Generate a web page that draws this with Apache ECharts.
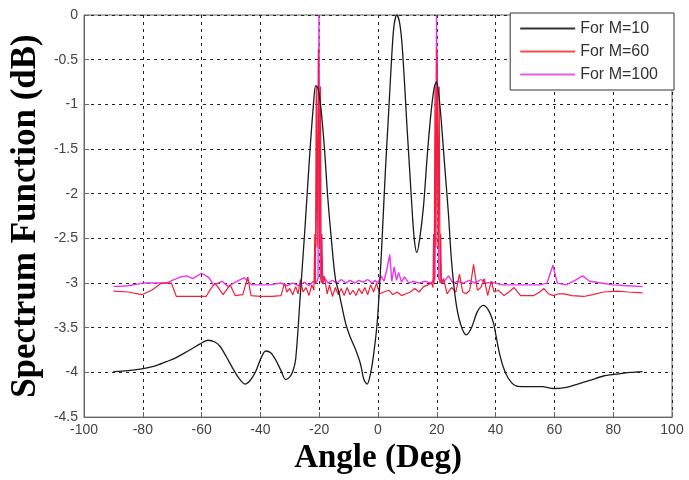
<!DOCTYPE html>
<html>
<head>
<meta charset="utf-8">
<script src="https://cdn.jsdelivr.net/npm/echarts@6/dist/echarts.min.js"></script>
<style>
html,body{margin:0;padding:0;background:#fff;}
#c{width:689px;height:480px;}
</style>
</head>
<body>
<div id="c"></div>
<script>
// ---- data ----
const seriesNames = ['For M=10', 'For M=60', 'For M=100'];
const xTicks = [-100, -80, -60, -40, -20, 0, 20, 40, 60, 80, 100];
const yTicks = [-4.5, -4, -3.5, -3, -2.5, -2, -1.5, -1, -0.5, 0];

const m10 = [
  [-90,-3.99],[-85,-3.98],[-80.4,-3.96],[-76,-3.93],[-72,-3.88],[-69,-3.84],[-66.2,-3.79],[-63,-3.73],[-60.5,-3.68],[-57.8,-3.64],
  [-55.5,-3.66],[-53.7,-3.71],[-51.5,-3.83],[-49.3,-3.96],[-47.2,-4.07],[-45.3,-4.13],[-43.5,-4.09],[-41.6,-3.99],[-39.8,-3.84],
  [-38.2,-3.76],[-36.5,-3.78],[-34.8,-3.86],[-33,-3.98],[-31.4,-4.08],[-30,-4.05],[-29,-3.99],[-28,-3.85],[-26.4,-3.12],
  [-25,-2.46],[-24,-1.95],[-23,-1.45],[-22,-1.02],[-21.2,-0.79],[-20.4,-0.82],[-19.4,-1.05],[-18.2,-1.5],[-17.2,-2.0],
  [-15.9,-2.5],[-14.5,-2.95],[-13.2,-3.12],[-11.1,-3.44],[-9.5,-3.6],[-7.8,-3.73],[-6,-3.9],[-4.8,-4.08],[-3.7,-4.13],
  [-2.6,-4.02],[-1.5,-3.8],[-0.3,-3.45],[0.6,-3.0],[1.4,-2.5],[2.5,-1.75],[3.7,-1.04],[4.6,-0.5],[5.4,-0.13],[6.4,0],
  [7.3,-0.08],[8.1,-0.3],[9,-0.75],[9.8,-1.22],[10.7,-1.7],[11.5,-2.13],[12.3,-2.5],[13.2,-2.66],[14.2,-2.5],[15.5,-2.13],
  [16.8,-1.55],[18.2,-1.04],[19.2,-0.8],[19.9,-0.75],[20.7,-0.9],[21.6,-1.22],[22.7,-1.7],[23.9,-2.2],[25,-2.75],[26.4,-3.19],
  [28,-3.45],[30,-3.58],[31.8,-3.5],[33.8,-3.32],[35.8,-3.25],[37.5,-3.3],[39.2,-3.44],[40.2,-3.6],[41.2,-3.77],[42.6,-3.94],
  [44.2,-4.06],[46.3,-4.14],[49,-4.16],[52,-4.16],[55.8,-4.16],[59.8,-4.18],[63.5,-4.17],[67.9,-4.13],[72,-4.09],[76.7,-4.04],
  [81,-4.02],[85.8,-4.0],[90,-3.99]
];

const m60 = [
  [-90,-3.09],[-85,-3.1],[-80.4,-3.13],[-77,-3.08],[-73.6,-3.0],[-70.3,-3.0],[-68.6,-3.15],[-66,-3.15],[-62,-3.15],[-58.5,-3.15],
  [-56.8,-3.06],[-55.4,-3.0],[-52.7,-3.13],[-50.3,-3.02],[-48.6,-3.14],[-46,-3.13],[-44.3,-2.93],[-43.2,-3.14],[-40,-3.15],
  [-36,-3.15],[-33,-3.14],[-31.8,-3.0],[-31,-3.1],[-30,-3.06],[-29,-3.13],[-28,-3.04],[-27.2,-3.12],[-26.4,-2.96],[-25.5,-3.1],
  [-24.5,-3.05],[-23.5,-3.14],[-22.5,-3.02],[-21.8,-3.08],[-21.5,-2.45],[-21.3,-3.0],[-21.0,-0.8],[-20.7,-2.6],[-20.3,-0.38],
  [-19.9,-2.6],[-19.6,-0.8],[-19.3,-3.0],[-19.1,-2.45],[-18.8,-3.0],
  [-18.3,-2.92],[-17.3,-3.12],[-16.5,-3.02],[-15.5,-3.15],[-14.5,-3.05],[-13.5,-3.13],[-12.5,-3.06],[-11.5,-3.14],
  [-10.5,-3.05],[-9.5,-3.13],[-8.5,-3.08],[-7.5,-3.14],[-6.5,-3.06],[-5.5,-3.12],[-4.5,-3.05],[-3.5,-3.13],[-2.5,-3.02],
  [-1.5,-3.1],[-0.5,-3.0],[0.5,-3.12],[2,-3.1],[3.7,-3.08],[5,-3.13],[6.5,-3.1],[8,-3.14],[9.5,-3.12],[11,-3.1],[12.5,-3.06],
  [14,-3.1],[15.5,-3.04],[17,-3.02],[18.2,-3.0],[18.7,-3.05],[18.9,-2.45],[19.1,-3.0],[19.4,-0.8],[19.7,-2.6],[20.1,-0.38],
  [20.5,-2.6],[20.8,-0.8],[21.1,-3.0],[21.3,-2.45],[21.6,-3.0],
  [22.3,-2.95],[23.5,-3.12],[25,-3.05],[26.5,-3.1],[27.7,-2.9],[28.8,-3.1],[30,-3.12],[31.2,-3.08],[32.5,-2.79],[33.8,-3.08],
  [35,-3.05],[36.1,-2.95],[37.3,-3.14],[38.5,-2.98],[39.5,-3.1],[40.9,-3.08],[42.9,-3.14],[44.5,-3.1],[46.3,-3.05],[48.5,-3.14],
  [51,-3.14],[53,-3.14],[55,-3.1],[56.4,-3.06],[58,-3.12],[59.5,-3.14],[61.5,-3.12],[63.2,-3.12],[66,-3.14],[70,-3.15],
  [73,-3.13],[76.7,-3.1],[81.4,-3.09],[85,-3.1],[90,-3.11]
];

const m100 = [
  [-90,-3.04],[-85,-3.03],[-80,-3.0],[-75,-3.0],[-72,-3.0],[-70,-2.97],[-67,-2.93],[-65,-2.92],[-63,-2.95],[-60,-2.89],
  [-57.5,-2.94],[-56,-3.02],[-53,-2.98],[-51,-3.04],[-48.5,-2.99],[-45.5,-2.94],[-43,-3.02],[-40,-3.02],[-37,-3.02],[-33,-3.0],
  [-31,-3.03],[-29,-3.0],[-27,-3.03],[-25,-2.99],[-23.5,-3.03],[-22,-2.98],[-21,-3.0],[-20.4,-2.95],[-20.1,0],[-19.9,0],
  [-19.6,-2.95],[-19,-3.0],[-18,-2.95],[-17,-3.0],[-15.5,-2.97],[-14,-3.0],[-12.5,-2.96],[-11,-3.0],[-9.5,-2.97],[-8,-3.0],
  [-6.5,-2.97],[-5,-2.99],[-3.5,-2.96],[-2,-3.0],[-1,-2.97],[0,-3.0],[1,-2.92],[2,-2.98],[3,-2.85],[4,-2.68],[4.7,-2.98],
  [5.5,-2.82],[6.3,-2.97],[7,-2.88],[8,-2.99],[9,-2.93],[10.5,-3.0],[12,-2.98],[14,-3.0],[16,-2.98],[18,-3.0],[19.4,-2.95],
  [19.9,0],[20.1,0],[20.6,-2.95],[21.5,-3.0],[22.5,-2.98],[24,-2.92],[25.5,-3.0],[27,-2.98],[29,-3.0],[31,-2.97],[33,-3.0],
  [35,-2.96],[37,-3.0],[39,-2.99],[42,-3.02],[45,-3.02],[50,-3.02],[55,-3.02],[57.5,-3.0],[59.5,-2.8],[61,-3.0],[64,-3.02],
  [67,-2.97],[69.6,-2.92],[72,-2.98],[76,-3.0],[80,-3.02],[85,-3.03],[90,-3.04]
];

// ---- chart ----
const chart = echarts.init(document.getElementById('c'), null, {renderer: 'canvas'});
const gridDash = {type: [3, 4], color: '#222', width: 1};
chart.setOption({
  animation: false,
  backgroundColor: '#fff',
  grid: {left: 80, right: 17, top: 15, bottom: 53, show: true, borderColor: '#666', borderWidth: 1},
  legend: {
    orient: 'vertical', right: 15, top: 13,
    data: seriesNames,
    icon: 'rect',
    backgroundColor: '#fff', borderColor: '#333', borderWidth: 1,
    padding: [7, 16, 7, 10], itemGap: 6, itemWidth: 55, itemHeight: 2,
    textStyle: {fontFamily: 'Liberation Sans', fontSize: 16, color: '#333', lineHeight: 17}
  },
  xAxis: {
    type: 'value', min: xTicks[0], max: xTicks[xTicks.length - 1], interval: 20,
    name: 'Angle (Deg)', nameLocation: 'middle', nameGap: 20,
    nameTextStyle: {fontFamily: 'Liberation Serif', fontWeight: 'bold', fontSize: 33, color: '#000'},
    axisLine: {show: true, onZero: false, lineStyle: {color: '#666'}},
    axisTick: {show: true, inside: true, length: 5, lineStyle: {color: '#666'}},
    axisLabel: {fontFamily: 'Liberation Sans', fontSize: 14, color: '#444', margin: 6},
    splitLine: {show: true, lineStyle: gridDash}
  },
  yAxis: {
    type: 'value', min: yTicks[0], max: yTicks[yTicks.length - 1], interval: 0.5,
    name: 'Spectrum Function (dB)', nameLocation: 'middle', nameGap: 38,
    nameTextStyle: {fontFamily: 'Liberation Serif', fontWeight: 'bold', fontSize: 35, color: '#000'},
    axisLine: {show: true, onZero: false, lineStyle: {color: '#666'}},
    axisTick: {show: true, inside: true, length: 5, lineStyle: {color: '#666'}},
    axisLabel: {fontFamily: 'Liberation Sans', fontSize: 14, color: '#444', margin: 6},
    splitLine: {show: true, lineStyle: gridDash}
  },
  series: [
    {name: seriesNames[0], type: 'line', data: m10, symbol: 'none', smooth: 0.3, z: 4,
     lineStyle: {color: '#1a1a1a', width: 1.3}, itemStyle: {color: '#333'}},
    {name: seriesNames[1], type: 'line', data: m60, symbol: 'none', z: 3,
     lineStyle: {color: '#f0203a', width: 1.2}, itemStyle: {color: '#f05050'}},
    {name: seriesNames[2], type: 'line', data: m100, symbol: 'none', z: 2,
     lineStyle: {color: '#ee33ee', width: 1.4}, itemStyle: {color: '#e060e8'}}
  ]
});
</script>
</body>
</html>
